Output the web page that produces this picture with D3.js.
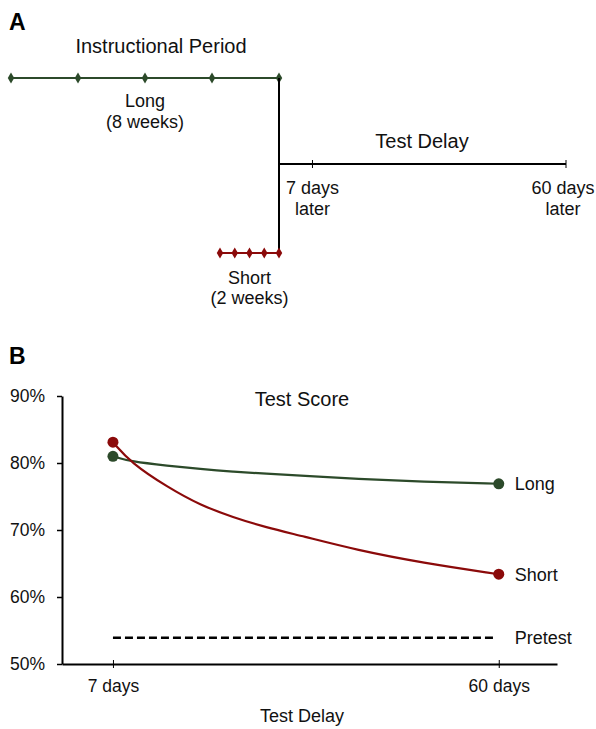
<!DOCTYPE html>
<html lang="en">
<head>
  <meta charset="UTF-8">
  <title>Instructional Period and Test Delay</title>
  <script src="https://d3js.org/d3.v7.min.js"></script>
  <style>
    html, body { margin: 0; background: #fff; }
    text { font-family: "Liberation Sans", Arial, Helvetica, sans-serif; font-size: 18px; fill: #111; }
    .title { font-size: 20px; }
    .panel { font-size: 23px; font-weight: bold; fill: #000; }
    .axis path, .axis line { stroke: #000; }
    .axis text { font-size: 17.5px; font-family: "Liberation Sans", Arial, sans-serif; fill: #111; }
  </style>
</head>
<body>
  <svg width="596" height="729"></svg>
  <script>
    // ---- data ----
    const longWeeks = [-8, -6, -4, -2, 0];        // markers on the long instructional period
    const shortWeeks = [-2, -1.5, -1, -0.5, 0];   // markers on the short instructional period
    const delayTicks = [7, 60];                   // test delay marks (days)
    const delayLabels = ["7 days", "60 days"];

    const days = [7, 9.5, 14.5, 19, 23.5, 28, 33, 40.5, 49.5, 60];
    const longScores  = [81.0, 80.2, 79.6, 79.1, 78.7, 78.4, 78.1, 77.6, 77.2, 76.9];
    const shortScores = [83.1, 80.0, 76.4, 73.7, 71.9, 70.4, 69.1, 67.0, 65.1, 63.4];
    const pretest = 53.9;
    const yTicks = [50, 60, 70, 80, 90];

    const green = "#2c4a2a";
    const red = "#8b0a0a";

    const svg = d3.select("svg");

    // ================= Panel A =================
    svg.append("text").attr("class", "panel").attr("x", 9).attr("y", 30).text("A");

    const longX = d3.scaleLinear().domain([-8, 0]).range([11, 279]);
    const shortX = d3.scaleLinear().domain([-2, 0]).range([220, 279]);
    const delayX = d3.scaleLinear().domain([0, 60]).range([279, 566]);
    const yLong = 78, yShort = 253, yDelay = 164;

    const diamond = d3.symbol().type(d3.symbolDiamond).size(36);

    // long period
    svg.append("line")
      .attr("x1", longX(-8)).attr("x2", longX(0))
      .attr("y1", yLong).attr("y2", yLong)
      .attr("stroke", green).attr("stroke-width", 2);
    svg.selectAll(".long-mark")
      .data(longWeeks)
      .enter()
      .append("path")
      .attr("class", "long-mark")
      .attr("d", diamond)
      .attr("transform", d => `translate(${longX(d)},${yLong})`)
      .attr("fill", green);

    // vertical connector
    svg.append("line")
      .attr("x1", longX(0)).attr("x2", longX(0))
      .attr("y1", yLong).attr("y2", yShort)
      .attr("stroke", "#000").attr("stroke-width", 2);

    // short period
    svg.append("line")
      .attr("x1", shortX(-2)).attr("x2", shortX(0))
      .attr("y1", yShort).attr("y2", yShort)
      .attr("stroke", red).attr("stroke-width", 2);
    svg.selectAll(".short-mark")
      .data(shortWeeks)
      .enter()
      .append("path")
      .attr("class", "short-mark")
      .attr("d", diamond)
      .attr("transform", d => `translate(${shortX(d)},${yShort})`)
      .attr("fill", red);

    // test delay line
    svg.append("line")
      .attr("x1", delayX(0)).attr("x2", delayX(60))
      .attr("y1", yDelay).attr("y2", yDelay)
      .attr("stroke", "#000").attr("stroke-width", 2);
    svg.selectAll(".delay-tick")
      .data(delayTicks)
      .enter()
      .append("line")
      .attr("x1", d => delayX(d)).attr("x2", d => delayX(d))
      .attr("y1", yDelay - 4).attr("y2", yDelay + 4)
      .attr("stroke", "#000").attr("stroke-width", 1);

    const delayText = svg.selectAll(".delay-label")
      .data(delayTicks)
      .enter()
      .append("text")
      .attr("text-anchor", "middle")
      .attr("x", d => delayX(d) - (d === 60 ? 3 : 0))
      .attr("y", 194);
    delayText.append("tspan").text((d, i) => delayLabels[i]);
    delayText.append("tspan")
      .attr("x", d => delayX(d) - (d === 60 ? 3 : 0))
      .attr("dy", 21)
      .text("later");

    svg.append("text").attr("class", "title").attr("x", 161).attr("y", 53).attr("text-anchor", "middle").text("Instructional Period");
    svg.append("text").attr("class", "title").attr("x", 422).attr("y", 148).attr("text-anchor", "middle").text("Test Delay");
    svg.append("text").attr("x", longX(-4)).attr("y", 107).attr("text-anchor", "middle").text("Long");
    svg.append("text").attr("x", longX(-4)).attr("y", 128).attr("text-anchor", "middle").text("(8 weeks)");
    svg.append("text").attr("x", shortX(-1)).attr("y", 284).attr("text-anchor", "middle").text("Short");
    svg.append("text").attr("x", shortX(-1)).attr("y", 304).attr("text-anchor", "middle").text("(2 weeks)");

    // ================= Panel B =================
    svg.append("text").attr("class", "panel").attr("x", 9).attr("y", 364).text("B");

    const x = d3.scaleLinear().domain([0, 68]).range([62, 557]);
    const y = d3.scaleLinear().domain([50, 90]).range([664, 396]);

    const xAxis = svg.append("g")
      .attr("class", "axis")
      .attr("transform", `translate(0,${y(50)})`)
      .call(d3.axisBottom(x).tickValues(delayTicks).tickSize(4).tickSizeOuter(0).tickPadding(12)
        .tickFormat((d, i) => delayLabels[i]));
    xAxis.select(".domain").attr("stroke-width", 2);
    xAxis.selectAll(".tick line").attr("y1", -4).attr("y2", 4);

    const yAxis = svg.append("g")
      .attr("class", "axis")
      .attr("transform", `translate(${x(0)},0)`)
      .call(d3.axisLeft(y).tickValues(yTicks).tickSize(5).tickSizeOuter(0).tickPadding(12)
        .tickFormat(d => d + "%"));
    yAxis.select(".domain").attr("stroke-width", 2);
    yAxis.selectAll(".tick line").attr("stroke-width", 1.5);

    // pretest dashed line
    svg.append("line")
      .attr("x1", x(7)).attr("x2", x(60) - 2)
      .attr("y1", y(pretest)).attr("y2", y(pretest))
      .attr("stroke", "#000").attr("stroke-width", 2.5)
      .attr("stroke-dasharray", "8,4");

    const line = d3.line().x(d => x(d[0])).y(d => y(d[1])).curve(d3.curveBasis);
    const series = [
      { name: "Long", scores: longScores, color: green },
      { name: "Short", scores: shortScores, color: red }
    ];

    series.forEach(s => {
      const pts = days.map((d, i) => [d, s.scores[i]]);
      svg.append("path")
        .datum(pts)
        .attr("d", line)
        .attr("fill", "none")
        .attr("stroke", s.color)
        .attr("stroke-width", 2.2);
      svg.selectAll(null)
        .data([pts[0], pts[pts.length - 1]])
        .enter()
        .append("circle")
        .attr("cx", d => x(d[0]))
        .attr("cy", d => y(d[1]))
        .attr("r", 5.5)
        .attr("fill", s.color);
      svg.append("text")
        .attr("x", x(60) + 16)
        .attr("y", y(s.scores[s.scores.length - 1]))
        .attr("dy", "0.35em")
        .text(s.name);
    });

    svg.append("text")
      .attr("x", x(60) + 16)
      .attr("y", y(pretest))
      .attr("dy", "0.35em")
      .text("Pretest");

    svg.append("text").attr("class", "title").attr("x", 302).attr("y", 406).attr("text-anchor", "middle").text("Test Score");
    svg.append("text").attr("x", 302).attr("y", 722).attr("text-anchor", "middle").text("Test Delay");
  </script>
</body>
</html>
